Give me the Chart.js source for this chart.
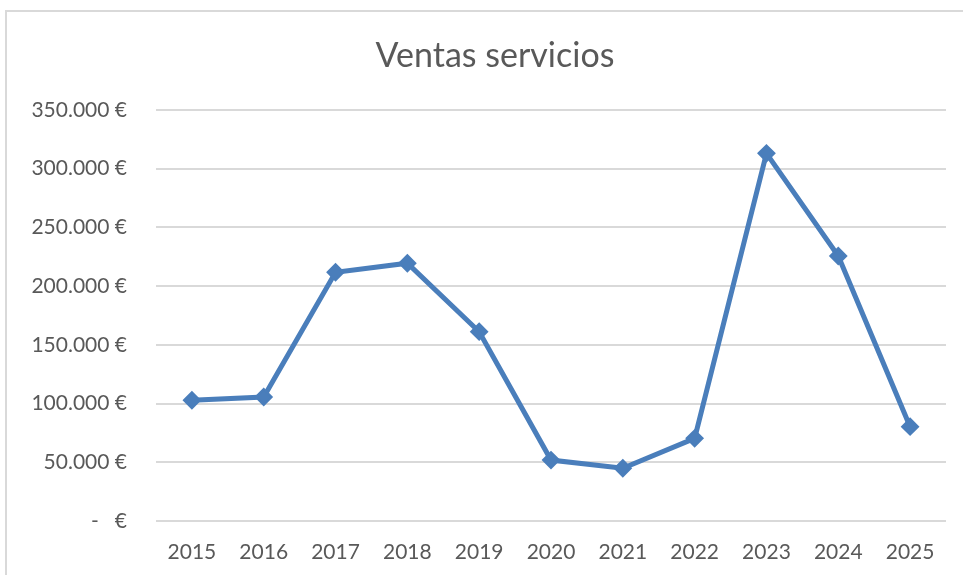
<!DOCTYPE html>
<html>
<head>
<meta charset="utf-8">
<script src="https://cdn.jsdelivr.net/npm/chart.js@4"></script>
<style>
    html, body { margin: 0; padding: 0; background: #fff; overflow: hidden; }
    #wrap { position: relative; width: 963px; height: 575px; }
    #frame { position: absolute; left: 5px; top: 10px; width: 1100px; height: 700px; border: 2px solid #d9d9d9; box-sizing: border-box; }
    #chart { position: absolute; left: 0; top: 0; }
</style>
</head>
<body>
<div id="wrap">
    <div id="frame"></div>
    <canvas id="chart" width="963" height="575"></canvas>
</div>
<script>
const chartTitle = 'Ventas servicios';
const years = ['2015', '2016', '2017', '2018', '2019', '2020', '2021', '2022', '2023', '2024', '2025'];
const ventas = [102800, 105600, 211800, 219500, 161200, 51900, 44900, 70400, 313100, 225700, 80300];
const yTicks = [0, 50000, 100000, 150000, 200000, 250000, 300000, 350000];

const lineColor = '#4a7ebb';
const textColor = '#595959';
const font = 'Lato';

function euro(v) {
    if (v === 0) return '-   €';
    return v.toLocaleString('de-DE') + ' €';
}

// the title is centred on the whole frame, which runs past the canvas edge
const frameTitle = {
    id: 'frameTitle',
    afterDraw: function(chart) {
        const c = chart.ctx;
        c.save();
        c.font = '34px ' + font;
        c.fillStyle = textColor;
        c.textAlign = 'center';
        c.textBaseline = 'alphabetic';
        c.fillText(chartTitle, 495, 67);
        c.restore();
    }
};

const ctx = document.getElementById('chart').getContext('2d');
new Chart(ctx, {
    type: 'line',
    data: {
        labels: years,
        datasets: [{
            label: chartTitle,
            data: ventas,
            borderColor: lineColor,
            backgroundColor: lineColor,
            borderWidth: 5,
            pointStyle: 'rectRot',
            pointRadius: 8,
            pointBorderWidth: 2,
            pointBorderColor: lineColor,
            pointBackgroundColor: lineColor,
            tension: 0,
            fill: false
        }]
    },
    options: {
        responsive: false,
        animation: false,
        layout: { padding: { left: 0, right: 17, top: 110, bottom: 0 } },
        plugins: {
            legend: { display: false },
            tooltip: { enabled: false },
            title: { display: false }
        },
        scales: {
            x: {
                offset: true,
                grid: { display: false, drawTicks: false },
                border: { display: false },
                ticks: {
                    color: textColor,
                    font: { family: font, size: 21 },
                    padding: 19,
                    maxRotation: 0
                },
                afterFit: function(scale) { scale.height = 54; }
            },
            y: {
                min: 0,
                max: 350000,
                afterBuildTicks: function(scale) {
                    scale.ticks = yTicks.map(v => ({ value: v }));
                },
                grid: { color: '#d9d9d9', lineWidth: 2, drawTicks: false },
                border: { display: false },
                ticks: {
                    color: textColor,
                    font: { family: font, size: 21 },
                    padding: 29,
                    callback: function(v) { return euro(v); }
                },
                afterFit: function(scale) { scale.width = 156; }
            }
        }
    },
    plugins: [frameTitle]
});
</script>
</body>
</html>
